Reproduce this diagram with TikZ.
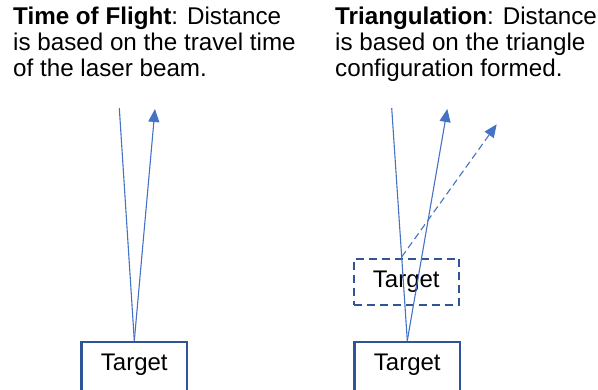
\documentclass[tikz,border=0pt]{standalone}
\usepackage{fontspec}
\setmainfont{Liberation Sans}
\usetikzlibrary{arrows.meta,calc}
\definecolor{beam}{HTML}{4472C4}
\definecolor{boxline}{HTML}{2F5597}
\begin{document}
\begin{tikzpicture}[x=1pt,y=-1pt,
  caption/.style={anchor=base west,inner sep=0pt,align=left,
    font=\fontsize{24.2}{26}\selectfont},
  targetbox/.style={draw=boxline,line width=2.2pt,minimum width=105.5pt,
    minimum height=52pt,inner sep=0pt,font=\fontsize{24}{26}\selectfont},
  ray/.style={draw=beam,line width=1.1pt},
  rayarrow/.style={ray,-{Triangle[length=13pt,width=11pt]}},
  ghostray/.style={rayarrow,dash pattern=on 7pt off 4pt}]
\useasboundingbox (0,0) rectangle (598,389);

% captions (anchored at the baseline of the last line)
\node[caption] (toftext) at (13,76)
  {\textbf{Time of Flight}: Distance\\is based on the travel time\\of the laser beam.};
\node[caption] (tritext) at (335,76)
  {\textbf{Triangulation}: Distance\\is based on the triangle\\configuration formed.};

% time of flight: beam out and back to the same point
\node[targetbox] (tofbox) at (134.3,367.8) {};
\node[font=\fontsize{24}{26}\selectfont,inner sep=0pt] (toflabel) at (134.3,365) {Target};
\coordinate (tofin) at (119.3,108);
\coordinate (tofout) at (155,109);
\draw[ray] (tofin) -- (tofbox.north);
\draw[rayarrow] (tofbox.north) -- (tofout);

% triangulation: reflected beam angle changes with target distance
\node[targetbox] (tribox) at (407.3,367.8) {};
\node[font=\fontsize{24}{26}\selectfont,inner sep=0pt] (trilabel) at (407.3,365) {Target};
\node[targetbox,dash pattern=on 8pt off 5pt,line width=2pt,minimum height=46pt]
  (ghostbox) at (406.3,281.7) {Target};
\coordinate (triin) at (391.7,108);
\coordinate (triout) at (447.3,109);
\coordinate (ghostout) at (496.7,124.3);
\draw[ray] (triin) -- (tribox.north);
\draw[rayarrow] (tribox.north) -- (triout);
\coordinate (ghosthit) at ($(triin)!0.64!(tribox.north)$);
\draw[ghostray] (ghosthit) -- (ghostout);
\end{tikzpicture}
\end{document}
